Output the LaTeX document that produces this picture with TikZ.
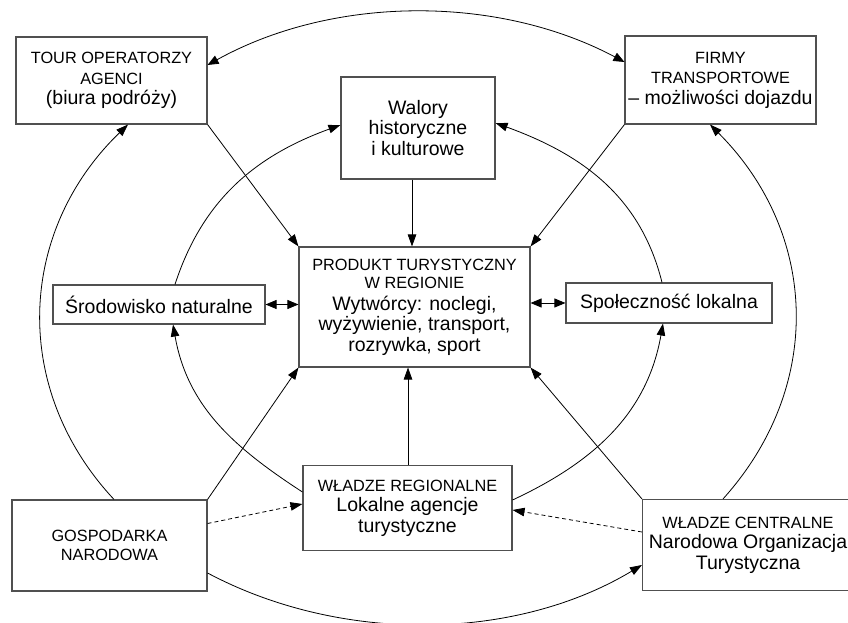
\documentclass[tikz,border=0pt]{standalone}
\usepackage{fontspec}
\setmainfont{Liberation Sans}
\usetikzlibrary{arrows.meta}
\definecolor{Frame}{HTML}{505050}
\newcommand\capsf{\fontsize{16.3}{20.5}\selectfont}
\newcommand\lowf{\fontsize{19.5}{20.5}\selectfont}

\begin{document}
\begin{tikzpicture}[x=1pt,y=1pt,
    box/.style={draw=Frame,line width=1.1pt,align=center,inner sep=0pt,font=\lowf},
    arr/.style={-{Triangle[length=12pt,width=8.5pt]},line width=0.8pt},
    both/.style={{Triangle[length=11pt,width=9pt]}-{Triangle[length=11pt,width=9pt]},line width=0.8pt},
    dotarr/.style={arr,dash pattern=on 4pt off 3pt}]
        \useasboundingbox (0,0) rectangle (848,623);
        \clip (0,0) rectangle (848,623);
        \node[box,minimum width=191,minimum height=87] (tour) at (111.5,542.5)
          {{\capsf TOUR OPERATORZY}\\{\capsf AGENCI}\\(biura podróży)};
        \node[box,minimum width=154,minimum height=102] (walory) at (418,495)
          {Walory\\historyczne\\i kulturowe};
        \node[box,minimum width=191,minimum height=88] (firmy) at (720.5,543)
          {{\capsf FIRMY}\\{\capsf TRANSPORTOWE}\\– możliwości dojazdu};
        \node[box,minimum width=231,minimum height=120] (produkt) at (414.5,316)
          {{\capsf PRODUKT TURYSTYCZNY}\\[-2pt]{\capsf W REGIONIE}\\[1pt]Wytwórcy: noclegi,\\wyżywienie, transport,\\rozrywka, sport};
        \node[box,minimum width=212,minimum height=39] (srod) at (159,318.5) {Środowisko naturalne};
        \node[box,minimum width=206,minimum height=40] (spol) at (669,320) {Społeczność lokalna};
        \node[box,minimum width=195,minimum height=91] (gosp) at (109.5,77.5)
          {{\capsf GOSPODARKA}\\[-2pt]{\capsf NARODOWA}};
        \node[box,minimum width=209,minimum height=85] (reg) at (407.5,115)
          {{\capsf WŁADZE REGIONALNE}\\Lokalne agencje\\turystyczne};
        \node[box,minimum width=211,minimum height=91] (centr) at (748,78)
          {{\capsf WŁADZE CENTRALNE}\\Narodowa Organizacja\\Turystyczna};

        \draw[both] ([yshift=15.5pt]tour.east) to[out=29,in=152,looseness=0.88] ([yshift=18pt]firmy.west);
        \draw[arr] ([xshift=4.5pt]gosp.north) to[out=133,in=224,looseness=1.04] ([xshift=16.5pt]tour.south);
        \draw[arr] ([yshift=-27.5pt]gosp.east) to[out=-28,in=211,looseness=0.88] ([yshift=-20pt]centr.west);
        \draw[arr] ([xshift=-25pt]centr.north) to[out=48,in=-45,looseness=1.04] ([xshift=-10.5pt]firmy.south);

        \draw[arr] ([xshift=16pt]srod.north) to[out=72,in=200] ([yshift=3pt]walory.west);
        \draw[arr] ([xshift=-7pt]spol.north) to[out=104,in=-20] ([yshift=5pt]walory.east);
        \draw[arr] ([yshift=16pt]reg.west) to[out=147,in=-80] ([xshift=14pt]srod.south);
        \draw[arr] ([yshift=8pt]reg.east) to[out=25,in=-100] ([xshift=-6pt]spol.south);

        \foreach \a/\b in {tour.south east/produkt.north west,firmy.south west/produkt.north east,
          gosp.north east/produkt.south west,centr.north west/produkt.south east}
          \draw[arr] (\a) -- (\b);
        \draw[arr] ([xshift=-6pt]walory.south) -- ([xshift=-6pt]walory.south |- produkt.north);
        \draw[arr] ([xshift=0.5pt]reg.north) -- ([xshift=0.5pt]reg.north |- produkt.south);
        \draw[both] (srod.east) -- (srod.east -| produkt.west);
        \draw[both] (spol.west -| produkt.east) -- (spol.west);
        \draw[dotarr] ([yshift=22pt]gosp.east) -- ([yshift=4pt]reg.west);
        \draw[dotarr] ([yshift=13pt]centr.west) -- ([yshift=-2pt]reg.east);
      \end{tikzpicture}
\end{document}
